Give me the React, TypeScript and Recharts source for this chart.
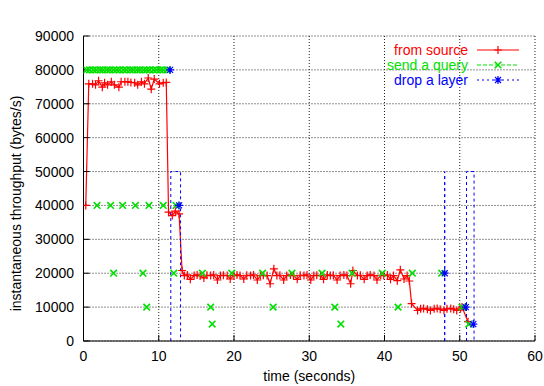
import React from "react";
import { CartesianGrid, ComposedChart, Label, Legend, Line, XAxis, YAxis } from "recharts";

const FONT = '"Liberation Sans", Arial, Helvetica, sans-serif';
const RED = "#ff0000";
const GREEN = "#00e000";
const BLUE = "#0000ff";

const X_TICKS = [0, 10, 20, 30, 40, 50, 60];
const Y_TICKS = [0, 10000, 20000, 30000, 40000, 50000, 60000, 70000, 80000, 90000];

// [time (s), throughput (bytes/s)]
const fromSource: [number, number][] = [
  [0.3, 40000], [0.7, 75900], [1.2, 75900], [1.6, 75600], [2.0, 76800], [2.5, 74900],
  [2.8, 76200], [3.2, 75600], [3.7, 76500], [4.1, 75600], [4.7, 74900], [5.0, 76500],
  [5.5, 76500], [5.9, 76500], [6.3, 76300], [6.8, 76200], [7.2, 75600], [7.7, 76500],
  [8.1, 75900], [8.6, 77600], [9.0, 74300], [9.4, 77300], [10.1, 75900], [10.6, 76200],
  [11.0, 76300], [11.3, 38000], [11.8, 37000], [12.2, 38300], [12.7, 37500],
  [13.1, 20800], [13.4, 19300], [13.8, 19500], [14.2, 18200], [14.7, 19300], [15.1, 19500],
  [15.5, 19200], [16.0, 18600], [16.4, 19400], [16.9, 19300], [17.3, 19500], [17.8, 18000],
  [18.2, 19300], [18.6, 19400], [19.1, 19300], [19.5, 18300], [20.0, 19300], [20.4, 19500],
  [20.8, 19300], [21.3, 18300], [21.7, 19400], [22.2, 19300], [22.6, 19500], [23.1, 18000],
  [23.5, 19300], [23.9, 19400], [24.4, 19300], [24.8, 16900], [25.3, 21300], [25.7, 19300],
  [26.1, 19400], [26.6, 18000], [27.0, 19300], [27.5, 19500], [27.9, 19300], [28.4, 18200],
  [28.8, 19400], [29.3, 19300], [29.7, 19500], [30.2, 18000], [30.6, 19300], [31.0, 19400],
  [31.5, 19300], [31.9, 18200], [32.4, 19500], [32.8, 19300], [33.2, 19400], [33.7, 18000],
  [34.1, 19300], [34.6, 19500], [35.0, 19300], [35.5, 16900], [35.8, 20800], [36.4, 19300],
  [36.8, 19400], [37.3, 18200], [37.7, 19300], [38.1, 19500], [38.6, 19300], [39.0, 18000],
  [39.5, 19400], [39.9, 19300], [40.4, 19500], [40.8, 18200], [41.2, 19300], [41.7, 17800],
  [42.1, 21000], [42.6, 18300], [43.0, 19300], [43.3, 17700], [43.6, 11000],
  [44.4, 9000], [44.8, 9500], [45.2, 9600], [45.7, 9400], [46.1, 9000], [46.6, 9500],
  [47.0, 9600], [47.4, 9400], [47.9, 9000], [48.3, 9500], [48.8, 9600], [49.2, 9400],
  [49.6, 9000], [50.1, 9500], [50.3, 10000], [51.1, 5700],
];

const sendQuery: [number, number][] = [
  [0.4, 80000], [0.8, 80000], [1.3, 80000], [1.7, 80000], [2.2, 80000], [2.6, 80000],
  [3.1, 80000], [3.5, 80000], [4.0, 80000], [4.4, 80000], [4.8, 80000], [5.3, 80000],
  [5.7, 80000], [6.2, 80000], [6.6, 80000], [7.1, 80000], [7.5, 80000], [8.0, 80000],
  [8.4, 80000], [8.8, 80000], [9.3, 80000], [9.7, 80000], [10.2, 80000], [10.6, 80000],
  [11.1, 80000],
  [1.8, 40000], [3.6, 40000], [5.2, 40000], [6.9, 40000], [8.7, 40000], [10.6, 40000], [12.3, 40000],
  [4.0, 20000], [7.9, 20000], [12.0, 20000], [15.8, 20000], [19.7, 20000], [23.8, 20000],
  [27.7, 20000], [31.7, 20000], [35.7, 20000], [39.7, 20000], [43.7, 20000], [47.6, 20000],
  [8.4, 10000], [16.9, 10000], [25.2, 10000], [33.4, 10000], [41.8, 10000], [50.3, 10000],
  [17.1, 5000], [34.2, 5000], [51.2, 5000],
];

const dropLayer: [number, number][] = [
  [11.5, 80000], [12.7, 40000], [48.0, 20000], [50.8, 10000], [51.8, 5000],
];

// dropped-layer windows [start, end] (s), drawn up to DROP_TOP
const dropWindows: [number, number][] = [[11.6, 12.9], [48.0, 48.0], [50.9, 51.9]];
const DROP_TOP = 50000;

const toRows = (pts: [number, number][]) => pts.map(([t, v]) => ({ t, v }));
const windowRows = dropWindows.flatMap(([a, b]) => [
  { t: a, v: 0 },
  { t: a, v: DROP_TOP },
  { t: b, v: DROP_TOP },
  { t: b, v: 0 },
  { t: b, v: null as number | null },
]);

function PlusDot(props: any) {
  const { cx, cy } = props;
  if (cx == null || cy == null) return null;
  const s = 4;
  return <path d={`M${cx - s},${cy}H${cx + s}M${cx},${cy - s}V${cy + s}`} stroke={RED} strokeWidth={1.2} fill="none" />;
}

function CrossDot(props: any) {
  const { cx, cy } = props;
  if (cx == null || cy == null) return null;
  const s = 3.3;
  return (
    <path
      d={`M${cx - s},${cy - s}L${cx + s},${cy + s}M${cx - s},${cy + s}L${cx + s},${cy - s}`}
      stroke={GREEN}
      strokeWidth={1.6}
      fill="none"
    />
  );
}

function StarDot(props: any) {
  const { cx, cy } = props;
  if (cx == null || cy == null) return null;
  const s = 4;
  const d = 3;
  return (
    <path
      d={`M${cx - s},${cy}H${cx + s}M${cx},${cy - s}V${cy + s}M${cx - d},${cy - d}L${cx + d},${cy + d}M${cx - d},${cy + d}L${cx + d},${cy - d}`}
      stroke={BLUE}
      strokeWidth={1.2}
      fill="none"
    />
  );
}

const LEGEND_ITEMS = [
  { name: "from source", color: RED, dash: undefined, Mark: PlusDot },
  { name: "send a query", color: GREEN, dash: "4 2", Mark: CrossDot },
  { name: "drop a layer", color: BLUE, dash: "2 3", Mark: StarDot },
];

function LegendBox() {
  return (
    <div style={{ fontFamily: FONT, fontSize: 14 }}>
      {LEGEND_ITEMS.map(({ name, color, dash, Mark }) => (
        <div key={name} style={{ display: "flex", alignItems: "center", height: 14.7 }}>
          <span style={{ width: 168, flexShrink: 0, textAlign: "right", color, lineHeight: "14px", whiteSpace: "nowrap" }}>
            {name}
          </span>
          <svg width={42} height={14} style={{ marginLeft: 9, flexShrink: 0, overflow: "visible" }}>
            <line x1={0} x2={42} y1={7} y2={7} stroke={color} strokeDasharray={dash} />
            <Mark cx={21} cy={7} />
          </svg>
        </div>
      ))}
    </div>
  );
}

const textStyle = { fontFamily: FONT, fontSize: 14, fill: "#000" };

export default function App() {
  return (
    <div style={{ position: "absolute", left: 0, top: 0, background: "#fff" }}>
      <ComposedChart width={544} height={386} margin={{ top: 36, right: 9, bottom: 0, left: 0 }}>
        <CartesianGrid stroke="#222" strokeDasharray="1 2" />
        <XAxis
          dataKey="t"
          type="number"
          domain={[0, 60]}
          ticks={X_TICKS}
          interval={0}
          height={45}
          tickSize={-6}
          tickMargin={16}
          axisLine={{ stroke: "#000" }}
          tickLine={{ stroke: "#000" }}
          tick={textStyle}
          allowDataOverflow
        >
          <Label
            content={({ viewBox }: any) => (
              <text x={viewBox.x + viewBox.width / 2} y={viewBox.y + 40} textAnchor="middle" style={textStyle}>
                time (seconds)
              </text>
            )}
          />
        </XAxis>
        <XAxis
          xAxisId="top"
          orientation="top"
          type="number"
          domain={[0, 60]}
          ticks={X_TICKS}
          interval={0}
          height={0}
          tickSize={-6}
          axisLine={{ stroke: "#000" }}
          tickLine={{ stroke: "#000" }}
          tick={false}
          allowDataOverflow
        >
          <Label
            content={({ viewBox }: any) => (
              <text x={viewBox.x + viewBox.width / 2 + 4} y={20} textAnchor="middle" style={textStyle}>
                Traffic measurement
              </text>
            )}
          />
        </XAxis>
        <YAxis
          type="number"
          domain={[0, 90000]}
          ticks={Y_TICKS}
          interval={0}
          width={83.5}
          tickSize={-6}
          tickMargin={15.5}
          axisLine={{ stroke: "#000" }}
          tickLine={{ stroke: "#000" }}
          tick={textStyle}
          allowDataOverflow
        >
          <Label
            content={({ viewBox }: any) => {
              const cx = 20.5;
              const cy = viewBox.y + viewBox.height / 2 + 15;
              return (
                <text x={cx} y={cy} textAnchor="middle" transform={`rotate(-90, ${cx}, ${cy})`} style={textStyle}>
                  instantaneous throughput (bytes/s)
                </text>
              );
            }}
          />
        </YAxis>
        <YAxis
          yAxisId="right"
          orientation="right"
          type="number"
          domain={[0, 90000]}
          ticks={Y_TICKS}
          interval={0}
          width={0}
          tickSize={-6}
          axisLine={{ stroke: "#000" }}
          tickLine={{ stroke: "#000" }}
          tick={false}
          allowDataOverflow
        />
        <Legend
          content={<LegendBox />}
          layout="vertical"
          align="center"
          verticalAlign="middle"
          wrapperStyle={{ top: 43, left: 300, width: 230 }}
        />

        <Line
          name="from source"
          data={toRows(fromSource)}
          dataKey="v"
          type="linear"
          stroke={RED}
          strokeWidth={1.2}
          dot={<PlusDot />}
          activeDot={false}
          isAnimationActive={false}
        />
        <Line
          name="send a query"
          data={toRows(sendQuery)}
          dataKey="v"
          type="linear"
          stroke="none"
          dot={<CrossDot />}
          activeDot={false}
          isAnimationActive={false}
        />
        <Line
          name="drop windows"
          data={windowRows}
          dataKey="v"
          type="linear"
          stroke={BLUE}
          strokeWidth={1}
          strokeDasharray="3 3"
          dot={false}
          activeDot={false}
          legendType="none"
          isAnimationActive={false}
        />
        <Line
          name="drop a layer"
          data={toRows(dropLayer)}
          dataKey="v"
          type="linear"
          stroke="none"
          dot={<StarDot />}
          activeDot={false}
          isAnimationActive={false}
        />
      </ComposedChart>
    </div>
  );
}
